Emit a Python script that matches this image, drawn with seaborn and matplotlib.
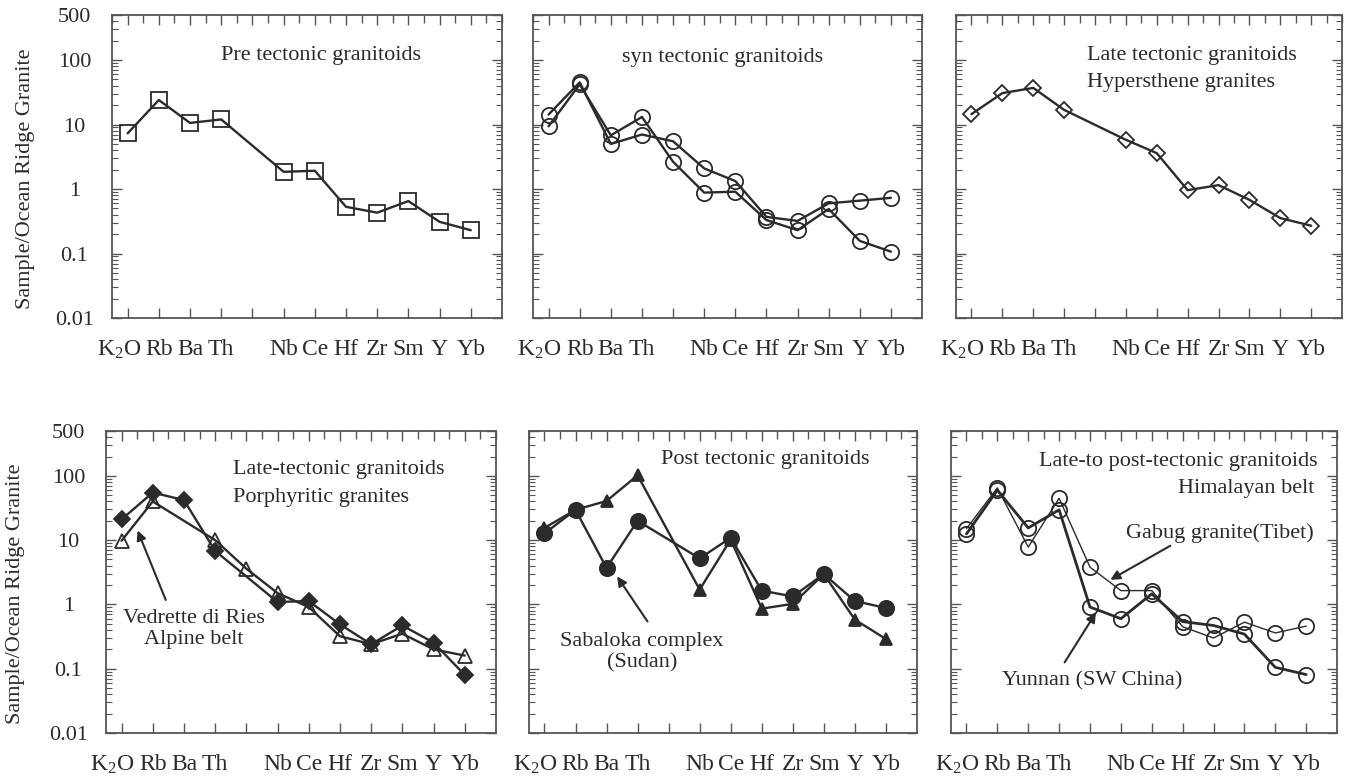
import numpy as np
import pandas as pd
import matplotlib.pyplot as plt
import seaborn as sns
from matplotlib.ticker import FixedLocator, MultipleLocator, LogLocator, NullFormatter
from matplotlib.transforms import ScaledTranslation

# element order on the x axis (slot 4 is an unlabelled gap)
elements = ["K$_2$O", "Rb", "Ba", "Th", "", "Nb", "Ce", "Hf", "Zr", "Sm", "Y", "Yb"]
positions = list(range(len(elements)))
nan = np.nan

# values (sample / ocean ridge granite)
pre_tectonic = [7.3, 24, 10.6, 12, nan, 1.85, 1.92, 0.53, 0.43, 0.65, 0.31, 0.23]
syn_a = [14.3, 45, 5.0, 7.0, 5.5, 2.09, 1.33, 0.37, 0.32, 0.60, 0.66, 0.73]
syn_b = [9.4, 42, 6.8, 13.1, 2.65, 0.88, 0.91, 0.33, 0.23, 0.49, 0.157, 0.107]
hypersthene = [14.5, 30.7, 37, 16.9, nan, 5.8, 3.6, 0.96, 1.15, 0.68, 0.354, 0.27]
porphyritic = [21, 55, 42, 6.8, nan, 1.09, 1.13, 0.49, 0.24, 0.47, 0.255, 0.08]
vedrette = [9.8, 40, nan, 10, 3.6, 1.5, 0.91, 0.32, 0.24, 0.35, 0.20, 0.16]
post_circles = [12.7, 29.6, 3.7, 20, nan, 5.2, 10.9, 1.64, 1.33, 2.96, 1.13, 0.88]
post_triangles = [15.5, 29.6, 40.7, 102, nan, 1.7, 10.2, 0.86, 1.02, 2.96, 0.58, 0.29]
yunnan = [12.5, 60, 15.5, 29.6, 0.91, 0.6, 1.46, 0.54, 0.47, 0.345, 0.105, 0.081]
gabug = [15.1, 65, 7.8, 44.8, 3.8, 1.64, 1.64, 0.45, 0.30, 0.53, 0.36, 0.46]

ytick_vals = [0.01, 0.1, 1, 10, 100, 500]
ytick_labels = ["0.01", "0.1", "1", "10", "100", "500"]

sns.set_theme(style="ticks")
plt.rcParams["font.family"] = ["Liberation Serif", "DejaVu Serif"]
plt.rcParams["mathtext.fontset"] = "custom"
plt.rcParams["mathtext.rm"] = "Liberation Serif"
plt.rcParams["mathtext.it"] = "Liberation Serif:italic"

INK = "#2b2b2b"
FRAME = "#555555"
FS = 17

fig = plt.figure(figsize=(13.48, 7.8), dpi=100)
fig.patch.set_facecolor("white")

top_y, top_h = 0.5923, 0.3885
bot_y, bot_h = 0.0603, 0.3872
axes = [
    fig.add_axes([0.0831, top_y, 0.2893, top_h]),
    fig.add_axes([0.3954, top_y, 0.2886, top_h]),
    fig.add_axes([0.7092, top_y, 0.2864, top_h]),
    fig.add_axes([0.0786, bot_y, 0.2893, bot_h]),
    fig.add_axes([0.3924, bot_y, 0.2878, bot_h]),
    fig.add_axes([0.7055, bot_y, 0.2864, bot_h]),
]


def draw(ax, values, marker, filled, size, lw=1.7):
    df = pd.DataFrame({"pos": positions, "val": values}).dropna()
    sns.lineplot(data=df, x="pos", y="val", ax=ax, estimator=None, sort=False,
                 color=INK, linewidth=lw, marker=marker, markersize=size,
                 markerfacecolor=INK if filled else "none",
                 markeredgecolor=INK, markeredgewidth=1.3)


def style(ax, left_labels, label_x):
    ax.set_yscale("log")
    ax.set_xlim(-0.5, 12)
    ax.set_ylim(0.01, 500)
    ax.xaxis.set_major_locator(FixedLocator(positions))
    ax.set_xticklabels(elements, fontsize=FS, color=INK)
    ax.xaxis.set_minor_locator(MultipleLocator(0.5))
    ax.yaxis.set_major_locator(FixedLocator(ytick_vals))
    ax.yaxis.set_minor_locator(LogLocator(base=10, subs=np.arange(2, 10)))
    ax.yaxis.set_minor_formatter(NullFormatter())
    if left_labels:
        ax.set_yticklabels(ytick_labels, fontsize=16, color=INK)
        for lab in ax.get_yticklabels():
            lab.set_horizontalalignment("center")
        ax.set_ylabel("Sample/Ocean Ridge Granite", fontsize=16, color=INK)
        ax.yaxis.set_label_coords(label_x, 0.46)
    else:
        ax.set_yticklabels([])
        ax.set_ylabel("")
    ax.set_xlabel("")
    ax.tick_params(axis="x", which="major", direction="in", length=7, width=1,
                   color=FRAME, top=True, pad=15)
    ax.tick_params(axis="y", which="major", direction="in", length=7, width=1,
                   color=FRAME, right=True, pad=27)
    ax.tick_params(axis="x", which="minor", direction="in", length=6, width=1,
                   color=FRAME, bottom=False, top=True)
    ax.tick_params(axis="y", which="minor", direction="in", length=4, width=0.8,
                   color=FRAME, left=True, right=True)
    # the K2O label sits a little left of its tick in the original
    k2o = ax.xaxis.get_major_ticks()[0].label1
    k2o.set_transform(k2o.get_transform() + ScaledTranslation(-0.09, 0, fig.dpi_scale_trans))
    for sp in ax.spines.values():
        sp.set_visible(True)
        sp.set_color(FRAME)
        sp.set_linewidth(1.3)
    ax.set_facecolor("white")


# panel 1
ax = axes[0]
draw(ax, pre_tectonic, "s", False, 11)
style(ax, True, -0.197)
ax.text(0.28, 0.865, "Pre tectonic granitoids", transform=ax.transAxes,
        fontsize=16, color=INK, va="center", ha="left")

# panel 2
ax = axes[1]
draw(ax, syn_a, "o", False, 11)
draw(ax, syn_b, "o", False, 11)
style(ax, False, 0)
ax.text(0.23, 0.86, "syn tectonic granitoids", transform=ax.transAxes,
        fontsize=16, color=INK, va="center", ha="left")

# panel 3
ax = axes[2]
draw(ax, hypersthene, "D", False, 8.5)
style(ax, False, 0)
ax.text(0.34, 0.865, "Late tectonic granitoids", transform=ax.transAxes,
        fontsize=16, color=INK, va="center", ha="left")
ax.text(0.34, 0.776, "Hypersthene granites", transform=ax.transAxes,
        fontsize=16, color=INK, va="center", ha="left")

# panel 4
ax = axes[3]
draw(ax, porphyritic, "D", True, 8)
draw(ax, vedrette, "^", False, 10)
style(ax, True, -0.207)
ax.text(0.326, 0.871, "Late-tectonic granitoids", transform=ax.transAxes,
        fontsize=16, color=INK, va="center", ha="left")
ax.text(0.326, 0.781, "Porphyritic granites", transform=ax.transAxes,
        fontsize=16, color=INK, va="center", ha="left")
ax.annotate("", xy=(0.48, 15.5), xytext=(1.45, 1.07),
            arrowprops=dict(arrowstyle="-|>", color=INK, lw=1.5, mutation_scale=14))
ax.text(2.31, 0.42, "Vedrette di Ries\nAlpine belt", fontsize=16, color=INK,
        ha="center", va="center", linespacing=1.15)

# panel 5
ax = axes[4]
draw(ax, post_circles, "o", True, 11)
draw(ax, post_triangles, "^", True, 9)
style(ax, False, 0)
ax.text(0.34, 0.904, "Post tectonic granitoids", transform=ax.transAxes,
        fontsize=16, color=INK, va="center", ha="left")
ax.annotate("", xy=(2.29, 2.96), xytext=(3.37, 0.50),
            arrowprops=dict(arrowstyle="-|>", color=INK, lw=1.5, mutation_scale=14))
ax.text(3.15, 0.178, "Sabaloka complex\n(Sudan)", fontsize=16, color=INK,
        ha="center", va="center", linespacing=1.15)

# panel 6
ax = axes[5]
draw(ax, gabug, "o", False, 11, lw=1.0)
draw(ax, yunnan, "o", False, 11, lw=2.0)
style(ax, False, 0)
ax.text(0.95, 0.90, "Late-to post-tectonic granitoids", transform=ax.transAxes,
        fontsize=16, color=INK, va="center", ha="right")
ax.text(0.94, 0.81, "Himalayan belt", transform=ax.transAxes,
        fontsize=16, color=INK, va="center", ha="right")
ax.annotate("", xy=(4.58, 2.3), xytext=(6.68, 8.6),
            arrowprops=dict(arrowstyle="-|>", color=INK, lw=1.5, mutation_scale=14))
ax.text(11.26, 13, "Gabug granite(Tibet)", fontsize=16, color=INK,
        ha="right", va="center")
ax.annotate("", xy=(4.24, 0.81), xytext=(3.13, 0.115),
            arrowprops=dict(arrowstyle="-|>", color=INK, lw=1.5, mutation_scale=14))
ax.text(4.06, 0.064, "Yunnan (SW China)", fontsize=16, color=INK,
        ha="center", va="center")

fig.savefig("out.png", dpi=100, facecolor="white")
